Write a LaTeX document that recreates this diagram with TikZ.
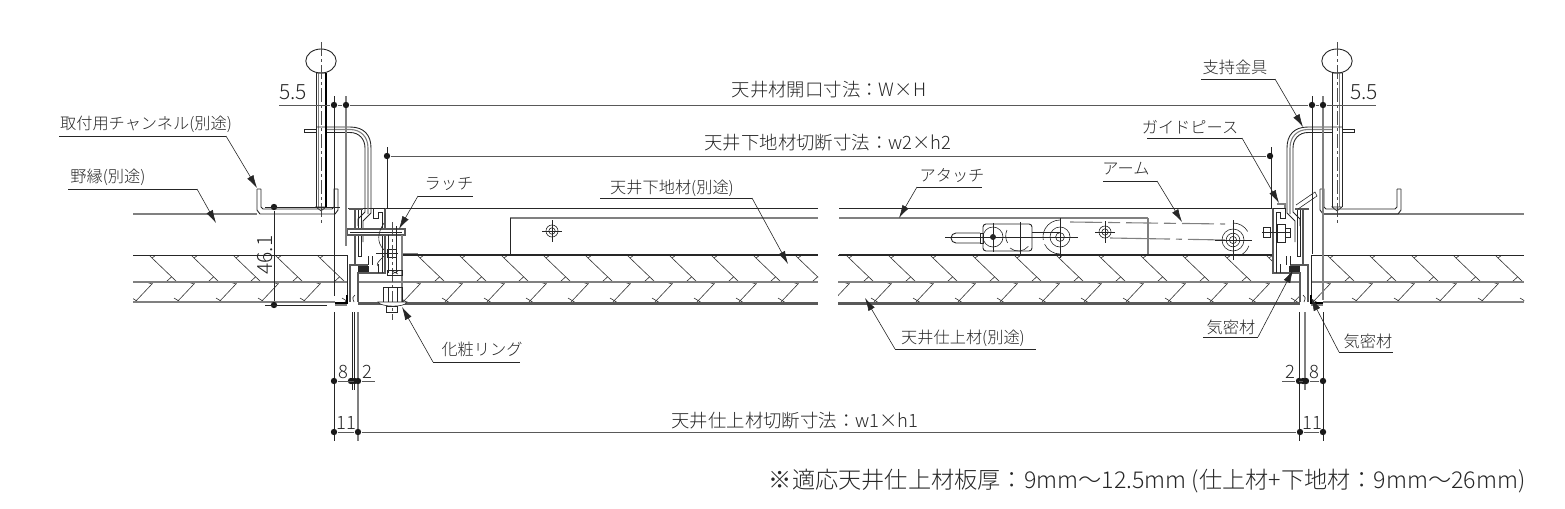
\documentclass[tikz,border=0pt]{standalone}
\usepackage{fontspec}
\setmainfont{Noto Sans CJK JP Light}
\usetikzlibrary{positioning,arrows.meta,calc}

\tikzset{
    thinline/.style={draw=black!85, line width=0.3pt},
    midline/.style={draw=black!85, line width=0.45pt},
    grayline/.style={draw=black!50, line width=0.55pt},
    casing/.style={draw=black!65, line width=0.9pt},
    dimline/.style={draw=black!65, line width=0.4pt},
    centerline/.style={draw=black!70, line width=0.3pt, dash pattern=on 7pt off 1.5pt on 1.5pt off 1.5pt},
    hatchline/.style={draw=black!80, line width=0.3pt},
    leader/.style={draw=black!85, line width=0.3pt, -{Latex[length=6.5pt,width=3.6pt]}},
    underbar/.style={draw=black!85, line width=0.35pt},
    dimdot/.style={circle, fill=black!90, inner sep=0pt, minimum size=3.2pt},
    lbl/.style={inner sep=0pt, font=\fontsize{8.1}{9}\selectfont, text=black!85},
    dimlbl/.style={inner sep=0pt, font=\fontsize{9.2}{10}\selectfont, text=black!85},
    numlbl/.style={inner sep=0pt, font=\fontsize{10.5}{11}\selectfont, text=black!85},
}

% hatching of the two boards, x0 is the first chevron
\newcommand{\boardhatch}[4]{
    \begin{scope}
        \clip (#1,255) rectangle (#2,282);
        \foreach \i in {-1,...,16} {
            \pgfmathsetmacro{\xa}{#3+42*\i}
            \draw[hatchline] (\xa,258) -- (\xa+25,282);
            \draw[hatchline] (\xa-3,255) -- (\xa,258) -- (\xa+4,255);
            \draw[hatchline] (\xa+14,282) -- (\xa+20,276.5);
        }
    \end{scope}
    \begin{scope}
        \clip (#1,282) rectangle (#4,302);
        \foreach \i in {-1,...,16} {
            \pgfmathsetmacro{\xa}{#3+42*\i}
            \draw[hatchline] (\xa,284) -- (\xa-18,303);
            \draw[hatchline] (\xa-6,282) -- (\xa,284) -- (\xa+1,282);
            \draw[hatchline] (\xa-20,298) -- (\xa-12,303);
        }
    \end{scope}
}

% small screw seen from the front
\newcommand{\screwmark}[2]{
    \draw[thinline] (#1,#2) circle[radius=1.6pt] circle[radius=3pt];
    \draw[thinline] (#1-10,#2) -- (#1+10,#2) (#1,#2-11) -- (#1,#2+11);
}

% hanging bolt, bracket and channel, drawn on the left and mirrored
\newcommand{\hangpart}{
    \draw[midline] (321,61) ellipse[x radius=7.6pt, y radius=6pt];
    \draw[midline] (316,73) -- (316,207);
    \draw[midline] (326,73) -- (326,207);
    \draw[grayline] (318.5,73) -- (318.5,207);
    \draw[thinline] (316,73) -- (326,73) (316,207) -- (321,211) -- (326,207) -- cycle;
    \draw[centerline] (321,42) -- (321,223);
    % bracket
    \draw[thinline] (304,129) rectangle (316,132.5);
    \draw[midline] (316,127) -- (350,127) .. controls (364,127) and (371,135) .. (371,148) -- (371,213) -- (363,221) -- (363,242);
    \draw[grayline] (326,129.5) -- (350,129.5) .. controls (361,129.5) and (368,137) .. (368,148) -- (368,214);
    \draw[midline] (326,132.5) -- (350,132.5) .. controls (359,132.5) and (365,139) .. (365,148) -- (365,212) -- (358,219) -- (358,226);
    % channel
    \draw[midline] (257,189) -- (257,210) -- (260,214) -- (335,214) -- (338,210) -- (338,189);
    \draw[midline] (261,189) -- (257,189) (261,189) -- (261,207) -- (263,209) -- (332,209) -- (334,207) -- (334,189) -- (338,189);
}

% case of the frame, drawn on the left and mirrored
\newcommand{\casepart}{
    \draw[casing] (349,209) -- (363,209);
    \draw[casing] (355,209) -- (355,265);
    \draw[casing] (368,265) -- (350,265) -- (350,302);
    \draw[casing] (385,208) -- (385,273) -- (358,273) -- (358,302);
    \draw[thinline] (385,208) -- (373,208) -- (373,218) -- (378,218) -- (378,212) -- (382,212) -- (382,270);
    \draw[thinline] (361,210) -- (361,256) -- (358,256) -- (358,210);
    \draw[thinline] (368,256) -- (368,265) (372,256) -- (372,265);
    \draw[thinline] (378,264) -- (378,273) (382,264) -- (382,273);
    \fill[black!85] (358,266) rectangle (369,272);
    \draw[thinline] (354,302) .. controls (352,298) and (353,296) .. (355,295);
}

\begin{document}
\begin{tikzpicture}[x=0.5pt, y=-0.5pt]

    \useasboundingbox (0,0) rectangle (1565,509);

    % boards
    \boardhatch{133}{347}{194}{347}
    \boardhatch{402}{818}{420}{818}
    \boardhatch{838}{1272}{849}{1300}
    \boardhatch{1312}{1524}{1330}{1524}

    \foreach \xa/\xb in {133/347, 402/818, 838/1272, 1312/1524} {
        \draw[midline] (\xa,255) -- (\xb,255);
    }
    \foreach \xa/\xb in {133/347, 358/818, 838/1300, 1312/1524} {
        \draw[grayline] (\xa,282) -- (\xb,282);
    }
    \draw[grayline] (133,302) -- (335,302);
    \draw[grayline] (1323,302) -- (1524,302);
    \draw[midline] (347,255) -- (347,296);
    \draw[midline] (1311,255) -- (1311,296);
    \foreach \xa/\xb in {358/818, 838/1300} {
        \draw[casing, line width=1.1pt] (\xa,303.5) -- (\xb,303.5);
    }
    \draw[black, line width=1pt] (335,303) -- (347,303) -- (347,295);
    \draw[black, line width=1pt] (1323,303) -- (1311,303) -- (1311,295);
    \draw[grayline] (1311,305) -- (1323,305) (335,305) -- (347,305);

    % ceiling lines
    \draw[grayline] (133,214) -- (257,214);
    \draw[grayline] (1322,214) -- (1524,214);
    \draw[midline] (348,208) -- (818,208);
    \draw[midline] (839,208) -- (1275,208);
    \draw[grayline] (510,218) -- (818,218);
    \draw[grayline] (839,218) -- (1148,218);
    \draw[midline] (510,218) -- (510,254);
    \draw[midline] (402,254) -- (818,254);
    \draw[midline] (839,254) -- (1272,254);
    \draw[grayline] (1148,218) -- (1148,254);
    \draw[grayline] (402,253.5) -- (418,253.5);
    \screwmark{552}{231}

    % both ends
    \hangpart
    \casepart
    \begin{scope}[shift={(1658,0)}, xscale=-1]
        \hangpart
        \casepart
    \end{scope}
    \draw[black, line width=0.8pt] (326,73) -- (326,207);
    \draw[thinline] (1296,205) -- (1315,192) -- (1317,196) -- (1298,209);
    \draw[grayline] (1277,204) -- (1285,204) -- (1285,208);

    % latch
    \draw[casing, fill=white] (347,229) -- (405,229) -- (405,235) -- (347,235) -- cycle;
    \draw[thinline] (350,232) -- (402,232);
    \draw[grayline] (402,235) -- (402,302);
    \draw[thinline] (388,235) -- (388,273) (396,226) -- (396,273);
    \draw[thinline] (387,249) rectangle (396,257);
    \draw[thinline] (376,253) -- (398,253);
    \draw[thinline] (384,223) .. controls (378,232) and (376,242) .. (384,250);
    \draw[thinline] (384,256) .. controls (378,262) and (376,264) .. (378,266);
    \draw[centerline] (392,222) -- (392,320);
    \draw[thinline] (387,270) rectangle (402,275);
    \draw[thinline] (392,271) -- (398,274) (392,274) -- (398,271);
    \draw[thinline] (383,287) rectangle (402,303);
    \draw[thinline] (388,287) -- (388,303) (397,287) -- (397,303);
    \draw[thinline, fill=white] (378,302) .. controls (380,307) and (405,308) .. (407,302) -- cycle;
    \draw[thinline] (386,306) rectangle (397,312);

    % arm
    \draw[midline, rounded corners=1.5pt] (983,224) rectangle (1032,251);
    \draw[midline, rounded corners=2.5pt] (980,233) -- (951,233) -- (951,243) -- (980,243);
    \draw[midline] (980,233) rectangle (983,243);
    \draw[thinline] (993,237) circle[radius=5pt];
    \fill[black!85] (993,237) circle[radius=1.5pt];
    \draw[thinline] (1007,230) arc[start angle=155, end angle=210, radius=7pt];
    \draw[thinline] (1010,248) arc[start angle=230, end angle=320, radius=6.5pt];
    \draw[thinline] (945,237) -- (1060,237) (993,223) -- (993,252) (1020,222) -- (1020,256);
    \draw[thinline] (1032,232) -- (1060,232);
    \draw[thinline] (1060,237) circle[radius=2.2pt] circle[radius=5pt];
    \draw[thinline] (1060,220) arc[start angle=90, end angle=190, radius=8.5pt];
    \draw[thinline] (1044.6,244.2) arc[start angle=205, end angle=270, radius=8.5pt];
    \draw[thinline] (1060,218) -- (1060,258) (1042,237) -- (1078,237);
    \screwmark{1105}{232}
    \draw[grayline, dash pattern=on 16pt off 3pt on 6pt off 3pt] (1070,222) -- (1225,224);
    \draw[grayline, dash pattern=on 30pt off 3pt on 3pt off 3pt] (1110,238) -- (1225,240);
    \draw[thinline] (1233,240) circle[radius=1.8pt] circle[radius=3.4pt] circle[radius=5.5pt];
    \draw[thinline] (1233,220) -- (1233,260) (1215,240) -- (1252,240);
    \draw[thinline] (1233,223) arc[start angle=90, end angle=30, radius=8.5pt];
    \draw[thinline] (1238.8,256) arc[start angle=290, end angle=340, radius=8.5pt];
    \draw[midline] (1263,227) rectangle (1270,237);
    \draw[midline] (1277,224) rectangle (1285,242);
    \draw[midline] (1285,228) rectangle (1290,237);
    \draw[thinline] (1262,232) -- (1290,232);

    % witness lines
    \foreach \nm/\xp/\ya/\yb in {wa/334/96/296, wb/346/96/246, wc/387/147/208, wd/1312/96/254, we/1323/96/300, wf/1271/147/208} {
        \coordinate (\nm1) at (\xp,\ya);
        \coordinate (\nm2) at (\xp,\yb);
    }
    \draw[midline] (wa1) -- (wa2);
    \draw[grayline] (wb1) -- (wb2);
    \draw[thinline] (wc1) -- (wc2);
    \draw[midline] (wd1) -- (wd2);
    \draw[grayline] (we1) -- (we2);
    \draw[thinline] (wf1) -- (wf2);
    \draw[midline] (334,312) -- (334,441);
    \draw[thinline] (352,312) -- (352,390) (354.5,312) -- (354.5,390);
    \draw[grayline] (358,312) -- (358,441);
    \draw[midline] (1299,312) -- (1299,441);
    \draw[grayline] (1305,312) -- (1305,390);
    \draw[midline] (1323,312) -- (1323,441);

    % dimensions
    \coordinate (topL) at (279,105);
    \coordinate (topR) at (1376,105);
    \node[dimdot] (dtopa) at (334,105) {};
    \node[dimdot] (dtopb) at (346,105) {};
    \node[dimdot] (dtopc) at (1312,105) {};
    \node[dimdot] (dtopd) at (1323,105) {};
    \draw[dimline] (topL) -- (dtopa) -- (dtopb) -- (dtopc) -- (dtopd) -- (topR);

    \node[dimdot] (dsuba) at (387,156) {};
    \node[dimdot] (dsubb) at (1270,156) {};
    \draw[dimline] (dsuba) -- (dsubb);

    \node[dimdot] (dhgta) at (274,207) {};
    \node[dimdot] (dhgtb) at (274,305) {};
    \coordinate (hgtaL) at (265,207);
    \coordinate (hgtaR) at (340,207);
    \coordinate (hgtbL) at (265,305);
    \coordinate (hgtbR) at (327,305);
    \draw[midline] (dhgta) -- (dhgtb);
    \draw[thinline] (hgtaL) -- (hgtaR);
    \draw[thinline] (hgtbL) -- (hgtbR);

    \coordinate (gapL) at (375,381);
    \coordinate (gapR) at (1282,381);
    \node[dimdot] (dgapa) at (334,381) {};
    \node[dimdot] (dgapb) at (351,381) {};
    \node[dimdot] (dgapc) at (354.5,381) {};
    \node[dimdot] (dgapd) at (358,381) {};
    \node[dimdot] (dgape) at (1299,381) {};
    \node[dimdot] (dgapf) at (1303,381) {};
    \node[dimdot] (dgapg) at (1306,381) {};
    \node[dimdot] (dgaph) at (1323,381) {};
    \draw[dimline] (dgapa) -- (dgapb) -- (dgapc) -- (dgapd) -- (gapL);
    \draw[dimline] (gapR) -- (dgape) -- (dgapf) -- (dgapg) -- (dgaph);

    \node[dimdot] (dcuta) at (334,432) {};
    \node[dimdot] (dcutb) at (358,432) {};
    \node[dimdot] (dcutc) at (1300,432) {};
    \node[dimdot] (dcutd) at (1323,432) {};
    \draw[dimline] (dcuta) -- (dcutb) -- (dcutc) -- (dcutd);

    % dimension texts
    \node[numlbl] (topw) at (293,92) {5.5};
    \node[numlbl] (topx) at (1364,92) {5.5};
    \node[dimlbl] (openlbl) at (829,90) {天井材開口寸法：W×H};
    \node[dimlbl] (sublbl) at (828,143) {天井下地材切断寸法：w2×h2};
    \node[dimlbl] (cutlbl) at (795,421) {天井仕上材切断寸法：w1×h1};
    \node[numlbl, rotate=90] (hgtlbl) at (265,255) {46.1};
    \node[dimlbl] (gapa) at (343,372) {8};
    \node[dimlbl] (gapb) at (367,372) {2};
    \node[dimlbl] (gapc) at (1290,372) {2};
    \node[dimlbl] (gapd) at (1314,372) {8};
    \node[dimlbl] (cuta) at (346,423) {11};
    \node[dimlbl] (cutb) at (1312,423) {11};

    % labels with their leaders
    \foreach \nm/\tx/\cx/\cy/\ua/\ub/\uy/\tipx/\tipy in {
        chan/取付用チャンネル(別途)/146/124/59/226/136/257/188,
        nobuchi/野縁(別途)/108/177/68/197/189/216/223,
        latch/ラッチ/449/184/418/473/196/399/229,
        under/天井下地材(別途)/672/188/600/752/198/788/264,
        attach/アタッチ/952/176/917/982/187/899/218,
        arm/アーム/1126/169/1103/1157/181/1182/222,
        guide/ガイドピース/1190/127/1147/1242/138/1279/203,
        holder/支持金具/1235/67/1201/1275/79/1303/127,
        ring/化粧リング/482/349/433/520/362/402/307,
        finish/天井仕上材(別途)/963/338/895/1036/349/865/298,
        sealL/気密材/1231/327/1203/1258/337/1293/270
    } {
        \node[lbl] (\nm) at (\cx,\cy) {\tx};
        \coordinate (\nm A) at (\ua,\uy);
        \coordinate (\nm B) at (\ub,\uy);
        \coordinate (\nm T) at (\tipx,\tipy);
        \draw[underbar] (\nm A) -- (\nm B);
    }
    \draw[leader] (chanB) -- (chanT);
    \draw[leader] (nobuchiB) -- (nobuchiT);
    \draw[leader] (latchA) -- (latchT);
    \draw[leader] (underB) -- (underT);
    \draw[leader] (attachA) -- (attachT);
    \draw[leader] (armB) -- (armT);
    \draw[leader] (guideB) -- (guideT);
    \draw[leader] (holderB) -- (holderT);
    \draw[leader] (ringA) -- (ringT);
    \draw[leader] (finishA) -- (finishT);
    \draw[leader] (sealLB) -- (sealLT);

    \node[lbl] (sealR) at (1368,341) {気密材};
    \coordinate (sealRA) at (1339,352);
    \coordinate (sealRB) at (1393,352);
    \coordinate (sealRT) at (1311,298);
    \draw[underbar] (sealRA) -- (sealRB);
    \draw[leader] (sealRA) -- (sealRT);

    % note
    \node[inner sep=0pt, anchor=east, font=\fontsize{11.6}{12}\selectfont, text=black!85] (note) at (1526,481) {※適応天井仕上材板厚：9mm〜12.5mm (仕上材+下地材：9mm〜26mm)};

\end{tikzpicture}
\end{document}
